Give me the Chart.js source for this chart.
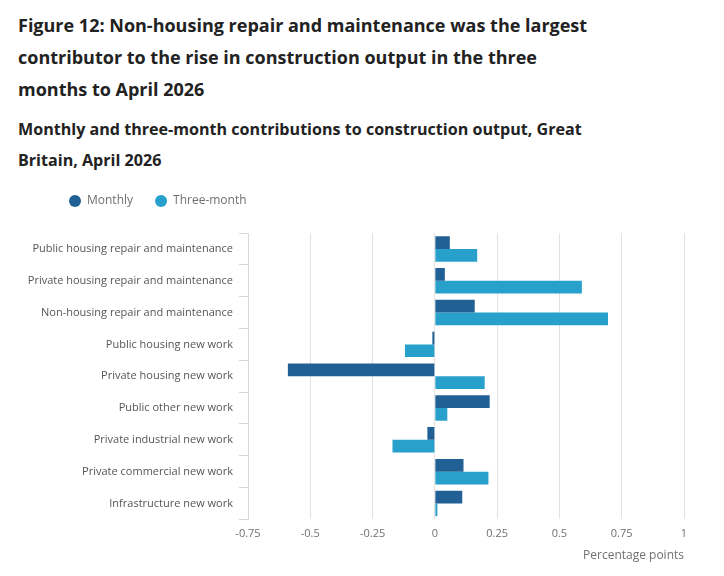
<!DOCTYPE html>
<html>
<head>
<meta charset="utf-8">
<script src="https://cdn.jsdelivr.net/npm/chart.js@4.4.1/dist/chart.umd.min.js"></script>
<style>
  html, body { margin: 0; padding: 0; background: #fff; width: 724px; height: 576px; overflow: hidden; font-family: "Open Sans", sans-serif; }
  #title { position: absolute; left: 18px; top: 9px; width: 582px; margin: 0; font-size: 18px; font-weight: 700; line-height: 32px; color: #222222; }
  #subtitle { position: absolute; left: 18px; top: 114px; width: 585px; margin: 0; font-size: 16.1px; font-weight: 700; line-height: 31px; color: #222222; }
  #wrap { position: absolute; left: 0; top: 173px; width: 724px; height: 403px; }
</style>
</head>
<body>
<h1 id="title">Figure 12: Non-housing repair and maintenance was the largest contributor to the rise in construction output in the three months to April 2026</h1>
<h2 id="subtitle">Monthly and three-month contributions to construction output, Great Britain, April 2026</h2>
<div id="wrap"><canvas id="c"></canvas></div>
<script>
const categories = [
  "Public housing repair and maintenance",
  "Private housing repair and maintenance",
  "Non-housing repair and maintenance",
  "Public housing new work",
  "Private housing new work",
  "Public other new work",
  "Private industrial new work",
  "Private commercial new work",
  "Infrastructure new work"
];
const monthly = [0.06, 0.04, 0.16, -0.01, -0.59, 0.22, -0.03, 0.115, 0.11];
const threeMonth = [0.17, 0.59, 0.695, -0.12, 0.20, 0.05, -0.17, 0.215, 0.01];
const xTicks = [-0.75, -0.5, -0.25, 0, 0.25, 0.5, 0.75, 1];
const seriesNames = ["Monthly", "Three-month"];

const LEGEND_SHIFT = 47;

const legendTune = {
  id: "legendTune",
  afterInit(chart) {
    const lg = chart.legend;
    if (lg && !lg._tuned) {
      const f = lg.fit.bind(lg);
      lg.fit = function () { f(); this.height += 16; };
      lg._tuned = true;
    }
  },
  afterLayout(chart) {
    if (chart.legend) { chart.legend.left += LEGEND_SHIFT; }
  }
};

new Chart(document.getElementById("c"), {
  type: "bar",
  data: {
    labels: categories,
    datasets: [
      { label: seriesNames[0], data: monthly, backgroundColor: "#206095", borderColor: "#206095", borderWidth: 0 },
      { label: seriesNames[1], data: threeMonth, backgroundColor: "#27a0cc", borderColor: "#27a0cc", borderWidth: 0 }
    ]
  },
  plugins: [legendTune],
  options: {
    indexAxis: "y",
    responsive: true,
    maintainAspectRatio: false,
    animation: false,
    devicePixelRatio: 1,
    layout: { padding: { left: 0, right: 40, top: 0, bottom: 13 } },
    datasets: { bar: { categoryPercentage: 0.8, barPercentage: 1.0 } },
    plugins: {
      legend: {
        display: true,
        position: "top",
        align: "start",
        labels: {
          usePointStyle: true,
          pointStyle: "circle",
          boxWidth: 12,
          boxHeight: 8.5,
          padding: 22,
          color: "#707071",
          font: { family: "Open Sans", size: 12 }
        }
      },
      tooltip: { enabled: false }
    },
    scales: {
      x: {
        type: "linear",
        min: -0.75,
        max: 1,
        afterBuildTicks: (s) => { s.ticks = xTicks.map(v => ({ value: v })); },
        grid: { color: "#e2e2e3", drawTicks: false, lineWidth: 1 },
        border: { display: false },
        ticks: {
          padding: 8,
          color: "#707071",
          font: { family: "Open Sans", size: 11 },
          callback: (v) => String(v)
        },
        title: {
          display: true,
          text: "Percentage points",
          align: "end",
          color: "#707071",
          font: { family: "Open Sans", size: 12 },
          padding: { top: 0, bottom: 0 }
        }
      },
      y: {
        afterFit: (s) => { s.width = 248; },
        grid: { drawOnChartArea: false, drawTicks: true, tickLength: 9, color: "#d9d9d9", offset: true },
        border: { display: true, color: "#d9d9d9" },
        ticks: {
          padding: 6,
          color: "#555555",
          font: { family: "Open Sans", size: 11 }
        }
      }
    }
  }
});
</script>
</body>
</html>
